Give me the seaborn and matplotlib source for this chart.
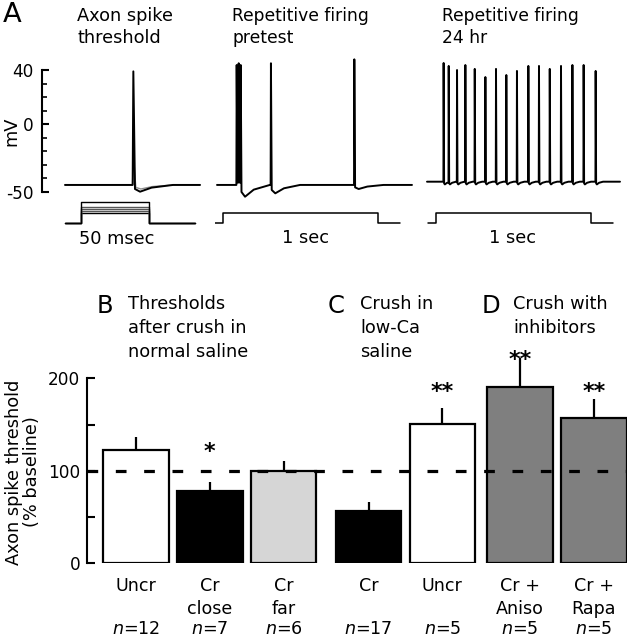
import numpy as np
import pandas as pd
import matplotlib
matplotlib.use("Agg")
import matplotlib.pyplot as plt
import matplotlib.transforms as mtransforms
import seaborn as sns

W, H = 627, 640

# ---------------- panel A: recorded traces ----------------
# axon spike threshold (time in ms, mV)
a1_base = -45
a1_spike_t = [49.8]
a1_spike_peak = [39]
a1_ahp = [-50]
a1_sub_peak = -22          # grey subthreshold sweep
a1_end = 98.4
a1_stim_on, a1_stim_off = 11.4, 61.4
a1_stim_amps = [1.05, 1.25, 1.45, 1.65, 2.1]

# repetitive firing pretest (time in s)
a2_base = -45
a2_spike_t = [0.127, 0.140, 0.153, 0.348, 0.886]
a2_spike_peak = [43.7, 45.0, 43.7, 45.0, 47.9]
a2_ahp = [-42, -42, -53.7, -51.2, -48]
a2_end = 1.258
a2_stim_on, a2_stim_off = 0.039, 1.039

# repetitive firing 24 hr (time in s)
a3_base = -42.6
a3_spike_t = [0.108, 0.141, 0.195, 0.249, 0.310, 0.379, 0.448, 0.515,
              0.584, 0.658, 0.727, 0.797, 0.870, 0.944, 1.017, 1.095]
a3_spike_peak = [45.2, 43.0, 40.0, 43.7, 40.8, 34.8, 40.8, 36.3,
                 39.3, 43.0, 43.0, 40.8, 43.0, 43.7, 43.7, 39.3]
a3_ahp = [-44.6] * 16
a3_end = 1.253
a3_stim_on, a3_stim_off = 0.058, 1.065

# ---------------- panels B-D: thresholds ----------------
groups = ["B", "B", "B", "C", "C", "D", "D"]
cond_line1 = ["Uncr", "Cr", "Cr", "Cr", "Uncr", "Cr +", "Cr +"]
cond_line2 = ["", "close", "far", "", "", "Aniso", "Rapa"]
n_cells = [12, 7, 6, 17, 5, 5, 5]
thr_mean = [122, 78, 100, 57, 151, 191, 157]
thr_sem = [14, 10, 11, 9, 17, 31, 21]
sig_marks = ["", "*", "", "", "**", "**", "**"]
sig_y = [0, 128, 0, 0, 193, 227, 193]
bar_fill = ["#ffffff", "#000000", "#d6d6d6", "#000000", "#ffffff", "#7f7f7f", "#7f7f7f"]

sns.set_style("ticks")
plt.rcParams["font.family"] = ["DejaVu Sans"]
plt.rcParams["mathtext.fontset"] = "dejavusans"
plt.rcParams["lines.scale_dashes"] = False
for k in ["text.color", "axes.labelcolor", "xtick.color", "ytick.color", "axes.edgecolor"]:
    plt.rcParams[k] = "black"

fig = plt.figure(figsize=(W / 100, H / 100), dpi=100)

FS_TITLE = 12.8
FS_TICK = 12.2
FS_CAT = 12.6


def add_ax(x0, y0, x1, y1):
    # pixel box, origin top-left
    return fig.add_axes([x0 / W, 1 - y1 / H, (x1 - x0) / W, (y1 - y0) / H])


def ftext(x, y, s, **kw):
    kw.setdefault("va", "baseline")
    fig.text(x / W, 1 - y / H, s, **kw)


def trace(base, times, peaks, ahps, t_end, rise, fall, tmin, rec):
    xs, ys = [0.0], [base]
    for i, (t, p, a) in enumerate(zip(times, peaks, ahps)):
        nxt = times[i + 1] - rise if i + 1 < len(times) else t_end
        xs += [t - rise, t]
        ys += [ys[-1], p]
        pts = [(t + fall, base + 0.6 * (a - base)), (t + tmin, a),
               (t + tmin + 0.35 * rec, a + 0.6 * (base - a)), (t + tmin + rec, base)]
        for px, py in pts:
            if px < nxt:
                xs.append(px)
                ys.append(py)
    xs.append(t_end)
    ys.append(base)
    return xs, ys


def stim(t0, t_on, t_off, t_end, amp):
    return [t0, t_on, t_on, t_off, t_off, t_end], [0, 0, amp, amp, 0, 0]


def clean(ax):
    for s in ax.spines.values():
        s.set_visible(False)
    ax.set_xticks([])
    ax.set_yticks([])
    ax.patch.set_alpha(0)


ylim_mv = ((124.1 - 200) / 1.352, (124.1 - 55) / 1.352)
cols = [
    dict(px=(41.7, 202), xlim=(-17.0, 99.85)),
    dict(px=(215, 414), xlim=(-0.0129, 1.271)),
    dict(px=(425, 622), xlim=(-0.013, 1.266)),
]
tr_axes, st_axes = [], []
for c in cols:
    ax = add_ax(c["px"][0], 55, c["px"][1], 200)
    ax.set_xlim(c["xlim"])
    ax.set_ylim(ylim_mv)
    clean(ax)
    tr_axes.append(ax)
    sx = add_ax(c["px"][0], 198, c["px"][1], 228)
    sx.set_xlim(c["xlim"])
    sx.set_ylim(-0.47, 2.53)
    clean(sx)
    st_axes.append(sx)

lw_tr = 1.4
# A1
x, y = trace(a1_base, a1_spike_t, [a1_sub_peak], [-48], a1_end, 0.6, 1.8, 5.5, 24)
sns.lineplot(x=x, y=y, sort=False, estimator=None, color="#8c8c8c", lw=1.0, ax=tr_axes[0])
x, y = trace(a1_base, a1_spike_t, a1_spike_peak, a1_ahp, a1_end, 0.5, 1.2, 4.9, 24)
sns.lineplot(x=x, y=y, sort=False, estimator=None, color="black", lw=lw_tr, ax=tr_axes[0])
for i, amp in enumerate(a1_stim_amps):
    x, y = stim(0, a1_stim_on, a1_stim_off, 94.8, amp)
    sns.lineplot(x=x, y=y, sort=False, estimator=None,
                 color="black" if i in (0, len(a1_stim_amps) - 1) else "#555555",
                 lw=1.0, ax=st_axes[0])
# A2
x, y = trace(a2_base, a2_spike_t, a2_spike_peak, a2_ahp, a2_end, 0.002, 0.005, 0.028, 0.16)
sns.lineplot(x=x, y=y, sort=False, estimator=None, color="black", lw=lw_tr, ax=tr_axes[1])
x, y = stim(-0.013, a2_stim_on, a2_stim_off, 1.181, 1.0)
sns.lineplot(x=x, y=y, sort=False, estimator=None, color="black", lw=1.1, ax=st_axes[1])
# A3
x, y = trace(a3_base, a3_spike_t, a3_spike_peak, a3_ahp, a3_end, 0.0015, 0.003, 0.008, 0.04)
sns.lineplot(x=x, y=y, sort=False, estimator=None, color="black", lw=lw_tr, ax=tr_axes[2])
x, y = stim(0.008, a3_stim_on, a3_stim_off, 1.21, 1.0)
sns.lineplot(x=x, y=y, sort=False, estimator=None, color="black", lw=1.1, ax=st_axes[2])

# voltage scale on first trace
ax = tr_axes[0]
ax.spines["left"].set_visible(True)
ax.spines["left"].set_bounds(-50, 40)
ax.spines["left"].set_linewidth(1.5)
ax.set_yticks([-50, 0, 40])
ax.set_yticklabels(["-50", "0", "40"])
ax.set_yticks(np.arange(-40, 40, 10), minor=True)
ax.tick_params(axis="y", which="major", direction="in", length=5, width=1.5,
               pad=6, labelsize=FS_TICK, left=True)
ax.tick_params(axis="y", which="minor", direction="in", length=3.6, width=1.2, left=True)
ftext(11, 131, "mV", rotation=90, ha="center", va="center", fontsize=FS_TITLE)

ftext(3, 21.7, "A", fontsize=19.7)
ftext(77, 20.7, "Axon spike", fontsize=FS_TITLE)
ftext(77, 43.3, "threshold", fontsize=FS_TITLE)
ftext(232, 20.7, "Repetitive firing", fontsize=12.3)
ftext(232, 43.0, "pretest", fontsize=12.3)
ftext(442, 20.7, "Repetitive firing", fontsize=12.3)
ftext(442, 43.0, "24 hr", fontsize=12.3)
ftext(116.7, 244, "50 msec", ha="center", fontsize=FS_TITLE)
ftext(305, 243, "1 sec", ha="center", fontsize=FS_TITLE)
ftext(512.5, 243, "1 sec", ha="center", fontsize=FS_TITLE)

# ---------------- bar chart ----------------
group_shift = {"B": 0.0, "C": 0.15, "D": 0.2}
pos = [i + group_shift[g] for i, g in enumerate(groups)]
df = pd.DataFrame({"pos": pos, "mean": thr_mean, "sem": thr_sem, "fill": bar_fill})

bx = add_ax(87.3, 563.3 - 232 * 0.925, 627, 563.3)
sns.barplot(data=df, x="pos", y="mean", hue="fill", palette=dict(zip(bar_fill, bar_fill)),
            native_scale=True, dodge=False, width=0.89, errorbar=None,
            edgecolor="black", linewidth=1.6, legend=False, ax=bx)
bx.vlines(df["pos"], df["mean"], df["mean"] + df["sem"], color="black", lw=1.6, zorder=4)
bx.axhline(100, color="black", lw=2.3, dashes=(7.7, 12.7), zorder=5)
bx.set_xlim(-0.658, 6.65)
bx.set_ylim(0, 232)
for s in ["top", "right", "bottom"]:
    bx.spines[s].set_visible(False)
bx.spines["left"].set_bounds(0, 200)
bx.spines["left"].set_linewidth(1.5)
bx.set_yticks([0, 100, 200])
bx.set_yticks([50, 150], minor=True)
bx.tick_params(axis="y", which="both", direction="in", length=6, width=1.5,
               pad=5, labelsize=FS_TICK)
bx.set_xticks([])
bx.set_xlabel("")
bx.set_ylabel("")
bx.patch.set_alpha(0)

for p, mark, yy in zip(pos, sig_marks, sig_y):
    if mark:
        bx.annotate(mark, (p, yy), xytext=(0, -9.4), textcoords="offset points",
                    ha="center", va="baseline", fontsize=16, fontweight="bold",
                    annotation_clip=False)

tr = mtransforms.blended_transform_factory(bx.transData, fig.transFigure)
for p, l1, l2, n in zip(pos, cond_line1, cond_line2, n_cells):
    bx.text(p, 1 - 591 / H, l1, transform=tr, ha="center", va="baseline", fontsize=FS_CAT)
    if l2:
        bx.text(p, 1 - 614.5 / H, l2, transform=tr, ha="center", va="baseline", fontsize=FS_CAT)
    bx.text(p, 1 - 634.5 / H, f"$n$={n}", transform=tr, ha="center", va="baseline", fontsize=FS_CAT)

ftext(23, 472, "Axon spike threshold\n(% baseline)", rotation=90, ha="center",
      va="center", multialignment="center", fontsize=FS_TITLE, linespacing=1.05)

ftext(97, 313.3, "B", fontsize=17.5)
ftext(128, 309.3, "Thresholds", fontsize=FS_TITLE)
ftext(128, 333.3, "after crush in", fontsize=FS_TITLE)
ftext(128, 357.3, "normal saline", fontsize=FS_TITLE)
ftext(328, 313.3, "C", fontsize=17.5)
ftext(360, 309.3, "Crush in", fontsize=FS_TITLE)
ftext(360, 333.3, "low-Ca", fontsize=FS_TITLE)
ftext(360, 357.3, "saline", fontsize=FS_TITLE)
ftext(481.7, 313.3, "D", fontsize=17.5)
ftext(513.3, 309.3, "Crush with", fontsize=FS_TITLE)
ftext(513.3, 333.3, "inhibitors", fontsize=FS_TITLE)

fig.savefig("out.png", dpi=100)
